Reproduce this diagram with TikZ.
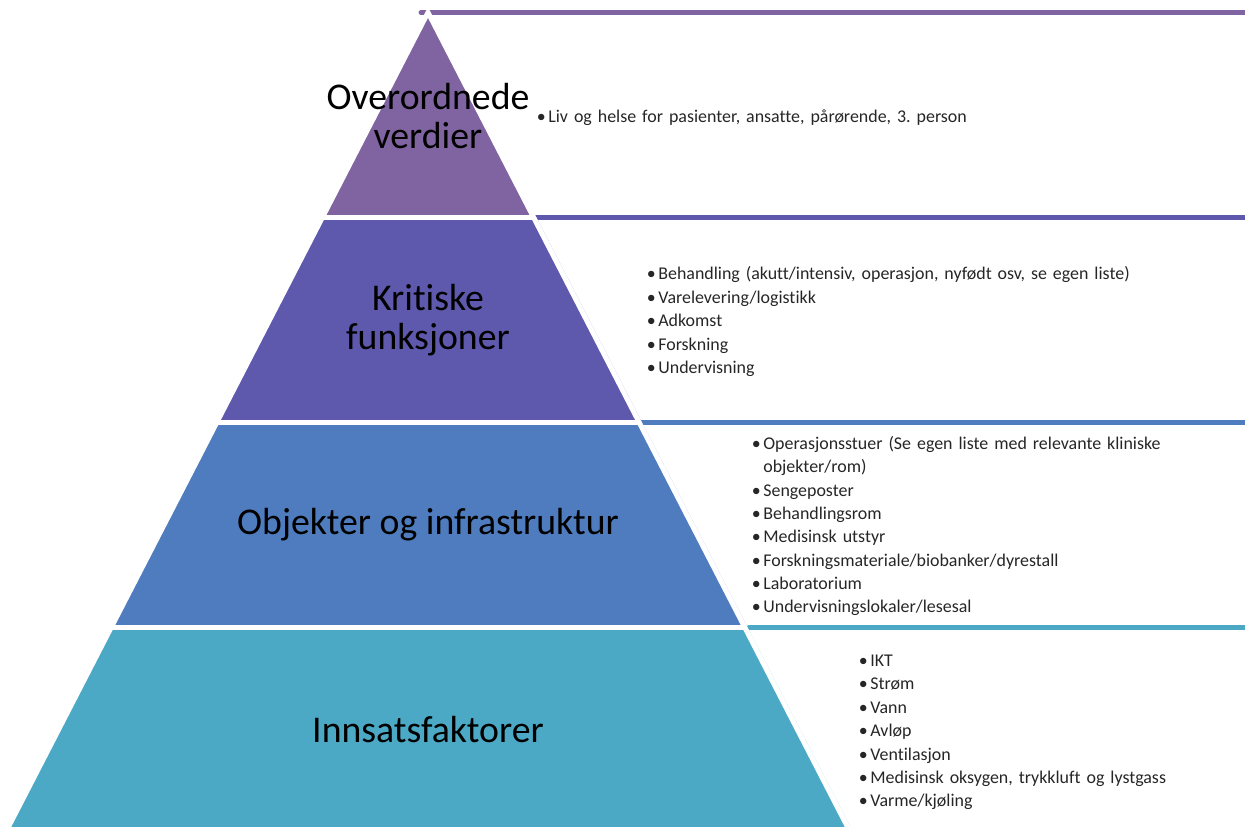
\documentclass[tikz,border=0pt]{standalone}
\usepackage{fontspec}
\setmainfont{Carlito}[Ligatures=NoCommon]
\usepackage{enumitem}
\frenchspacing
\definecolor{tierA}{HTML}{8064A2}
\definecolor{tierB}{HTML}{5E59AC}
\definecolor{tierC}{HTML}{4F7CBE}
\definecolor{tierD}{HTML}{4BA9C5}
\tikzstyle{tier} = [draw=white, line width=2.8pt, line join=miter]
\tikzstyle{title} = [align=center, inner sep=0pt, font=\fontsize{21.5}{22.5}\selectfont]
\tikzstyle{panel} = [anchor=west, inner sep=0pt, text=black!85, font=\fontsize{10.2}{13.3}\selectfont]
\tikzstyle{rule} = [line width=2.8pt, line cap=round]
\tikzstyle{rim} = [line width=0.3pt, opacity=0.3]
\newenvironment{points}{\raggedright\begin{itemize}[label=\textbullet, leftmargin=0.2cm, labelsep=0.05cm, itemsep=0pt, topsep=0pt, parsep=0pt, partopsep=0pt]}{\end{itemize}}

\begin{document}
\begin{tikzpicture}[x=0.02cm, y=-0.02cm]
                 \useasboundingbox (0,0) rectangle (1245,827);
                 \draw [rule, tierA] (421,12.5) -- (1260,12.5);
                 \draw [rule, tierB] (535,217.5) -- (1260,217.5);
                 \draw [rule, tierC] (642,422.5) -- (1260,422.5);
                 \draw [rule, tierD] (749,627.5) -- (1260,627.5);
                 \draw [rim, tierB] (537.6,220) -- (643.2,425);
                 \draw [rim, tierC] (643.2,425) -- (748.8,630);
                 \draw [rim, tierD] (748.8,630) -- (854.4,835);
                 \filldraw [tier, fill=tierA] (428,12.5) -- (533.6,217.5) -- (322.4,217.5) -- cycle;
                 \filldraw [tier, fill=tierB] (322.4,217.5) -- (533.6,217.5) -- (639.2,422.5) -- (216.8,422.5) -- cycle;
                 \filldraw [tier, fill=tierC] (216.8,422.5) -- (639.2,422.5) -- (744.8,627.5) -- (111.2,627.5) -- cycle;
                 \filldraw [tier, fill=tierD] (111.2,627.5) -- (744.8,627.5) -- (850.4,832.5) -- (5.6,832.5) -- cycle;
                 \node [title] at (428,116) (verdier) {Overordnede\\verdier};
                 \node [title] at (428,320) (funksjoner) {Kritiske\\funksjoner};
                 \node [title] at (428,525) (objekter) {Objekter og infrastruktur};
                 \node [title] at (428,730) (innsats) {Innsatsfaktorer};
                 \node [panel, text width=13cm] at (538,112) (listA) {\begin{points}
                   \item Liv og helse for pasienter, ansatte, pårørende, 3. person
                 \end{points}};
                 \node [panel, text width=11.5cm] at (648,316.5) (listB) {\begin{points}
                   \item Behandling (akutt/intensiv, operasjon, nyfødt osv, se egen liste)
                   \item Varelevering/logistikk
                   \item Adkomst
                   \item Forskning
                   \item Undervisning
                 \end{points}};
                 \node [panel, text width=9cm] at (753,521) (listC) {\begin{points}
                   \item Operasjonsstuer (Se egen liste med relevante kliniske objekter/rom)
                   \item Sengeposter
                   \item Behandlingsrom
                   \item Medisinsk utstyr
                   \item Forskningsmateriale/biobanker/dyrestall
                   \item Laboratorium
                   \item Undervisningslokaler/lesesal
                 \end{points}};
                 \node [panel, text width=7.4cm] at (860,726.5) (listD) {\begin{points}
                   \item IKT
                   \item Strøm
                   \item Vann
                   \item Avløp
                   \item Ventilasjon
                   \item Medisinsk oksygen, trykkluft og lystgass
                   \item Varme/kjøling
                 \end{points}};
\end{tikzpicture}
\end{document}
